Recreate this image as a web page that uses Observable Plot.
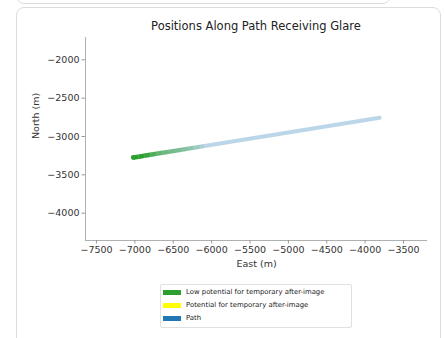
<!DOCTYPE html>
<html>
<head>
<meta charset="utf-8">
<script src="https://cdn.jsdelivr.net/npm/d3@7"></script>
<script src="https://cdn.jsdelivr.net/npm/@observablehq/plot@0.6"></script>
<style>
  html, body { margin: 0; padding: 0; background: #fff; }
  #root { position: relative; width: 445px; height: 338px; overflow: hidden; font-family: "DejaVu Sans", sans-serif; }
  .card-top { position: absolute; left: 16px; top: -20px; width: 373px; height: 22px; border: 1.5px solid #dcdcdc; border-radius: 8px; }
  .card { position: absolute; left: 16px; top: 7px; width: 423px; height: 360px; border: 1.5px solid #dcdcdc; border-radius: 8px; }
  #chart { position: absolute; left: 0; top: 0; }
  .title { position: absolute; top: 19px; left: 0; width: 512px; text-align: center; font-size: 11.5px; color: #222; }
  .legend { position: absolute; left: 160px; top: 284px; width: 190px; height: 42px; border: 1px solid #e0e0e0; border-radius: 2px; background: #fff; }
  .legend .row { position: absolute; left: 2px; height: 12px; display: flex; align-items: center; font-size: 6.9px; color: #222; white-space: nowrap; }
  .legend .sw { width: 18px; height: 5px; margin-right: 5px; }
</style>
</head>
<body>
<div id="root">
  <div class="card-top"></div>
  <div class="card"></div>
  <div id="chart"></div>
  <div class="title">Positions Along Path Receiving Glare</div>
  <div class="legend" id="legend"></div>
</div>
<script>
// Path endpoints (East, North in metres)
const pathEast = [-7022, -3811];
const pathNorth = [-3274, -2756];

// Glare positions along the path (low potential for after-image), with density as opacity
const glareEast = [-7020, -6950, -6880, -6800, -6720, -6640, -6560, -6480, -6400, -6320, -6240, -6160, -6100];
const glareNorth = [-3274, -3263, -3252, -3239, -3226, -3213, -3200, -3187, -3174, -3161, -3148, -3135, -3125];
const glareOpacity = [1, 1, 0.9, 0.75, 0.62, 0.55, 0.5, 0.45, 0.38, 0.3, 0.2, 0.1];

// Axes
const xTicks = [-7500, -7000, -6500, -6000, -5500, -5000, -4500, -4000, -3500];
const yTicks = [-2000, -2500, -3000, -3500, -4000];
const xDomain = [-7643, -3188];
const yDomain = [-4356, -1709];

// Legend
const legendLabels = ["Low potential for temporary after-image", "Potential for temporary after-image", "Path"];
const legendColors = ["#2ca02c", "#ffff00", "#1f77b4"];

const pathData = pathEast.map((e, i) => ({east: e, north: pathNorth[i]}));
const glareSegs = glareOpacity.map((o, i) => ({
  x1: glareEast[i], y1: glareNorth[i], x2: glareEast[i + 1], y2: glareNorth[i + 1], o
}));
const glareStart = [{east: glareEast[0], north: glareNorth[0]}];

const fmt = d => d.toString().replace("-", "\u2212");

const plot = Plot.plot({
  width: 445,
  height: 275,
  marginLeft: 85,
  marginRight: 18,
  marginTop: 37,
  marginBottom: 35,
  style: { fontFamily: "DejaVu Sans, sans-serif", fontSize: "9.5px", color: "#333", background: "transparent" },
  x: { domain: xDomain, ticks: xTicks },
  y: { domain: yDomain, ticks: yTicks },
  marks: [
    Plot.ruleX([xDomain[0]], { stroke: "#b0b0b0", strokeWidth: 1 }),
    Plot.ruleY([yDomain[0]], { stroke: "#b0b0b0", strokeWidth: 1 }),
    Plot.axisX({ ticks: xTicks, tickSize: 3.5, tickPadding: 2.5, stroke: "#999", fill: "#333",
      tickFormat: fmt, label: null, fontSize: 9.5 }),
    Plot.axisY({ ticks: yTicks, tickSize: 3.5, tickPadding: 2.5, stroke: "#999", fill: "#333",
      tickFormat: fmt, label: null, fontSize: 9.5 }),
    Plot.text(["East (m)"], { frameAnchor: "bottom", dy: 26, fontSize: 9.5, fill: "#333" }),
    Plot.text(["North (m)"], { frameAnchor: "left", dx: -50, rotate: -90, fontSize: 9.5, fill: "#333" }),
    Plot.line(pathData, { x: "east", y: "north", stroke: "#1f77b4", strokeOpacity: 0.3, strokeWidth: 4 }),
    Plot.link(glareSegs, { x1: "x1", y1: "y1", x2: "x2", y2: "y2", stroke: "#2ca02c",
      strokeOpacity: "o", strokeWidth: 4.5, strokeLinecap: "butt" }),
    Plot.dot(glareStart, { x: "east", y: "north", r: 2.4, fill: "#2ca02c" })
  ]
});
document.getElementById("chart").appendChild(plot);

const lg = document.getElementById("legend");
legendLabels.forEach((lab, i) => {
  const row = document.createElement("div");
  row.className = "row";
  row.style.top = (1 + i * 13) + "px";
  const sw = document.createElement("div");
  sw.className = "sw";
  sw.style.background = legendColors[i];
  const t = document.createElement("span");
  t.textContent = lab;
  row.appendChild(sw);
  row.appendChild(t);
  lg.appendChild(row);
});
</script>
</body>
</html>
